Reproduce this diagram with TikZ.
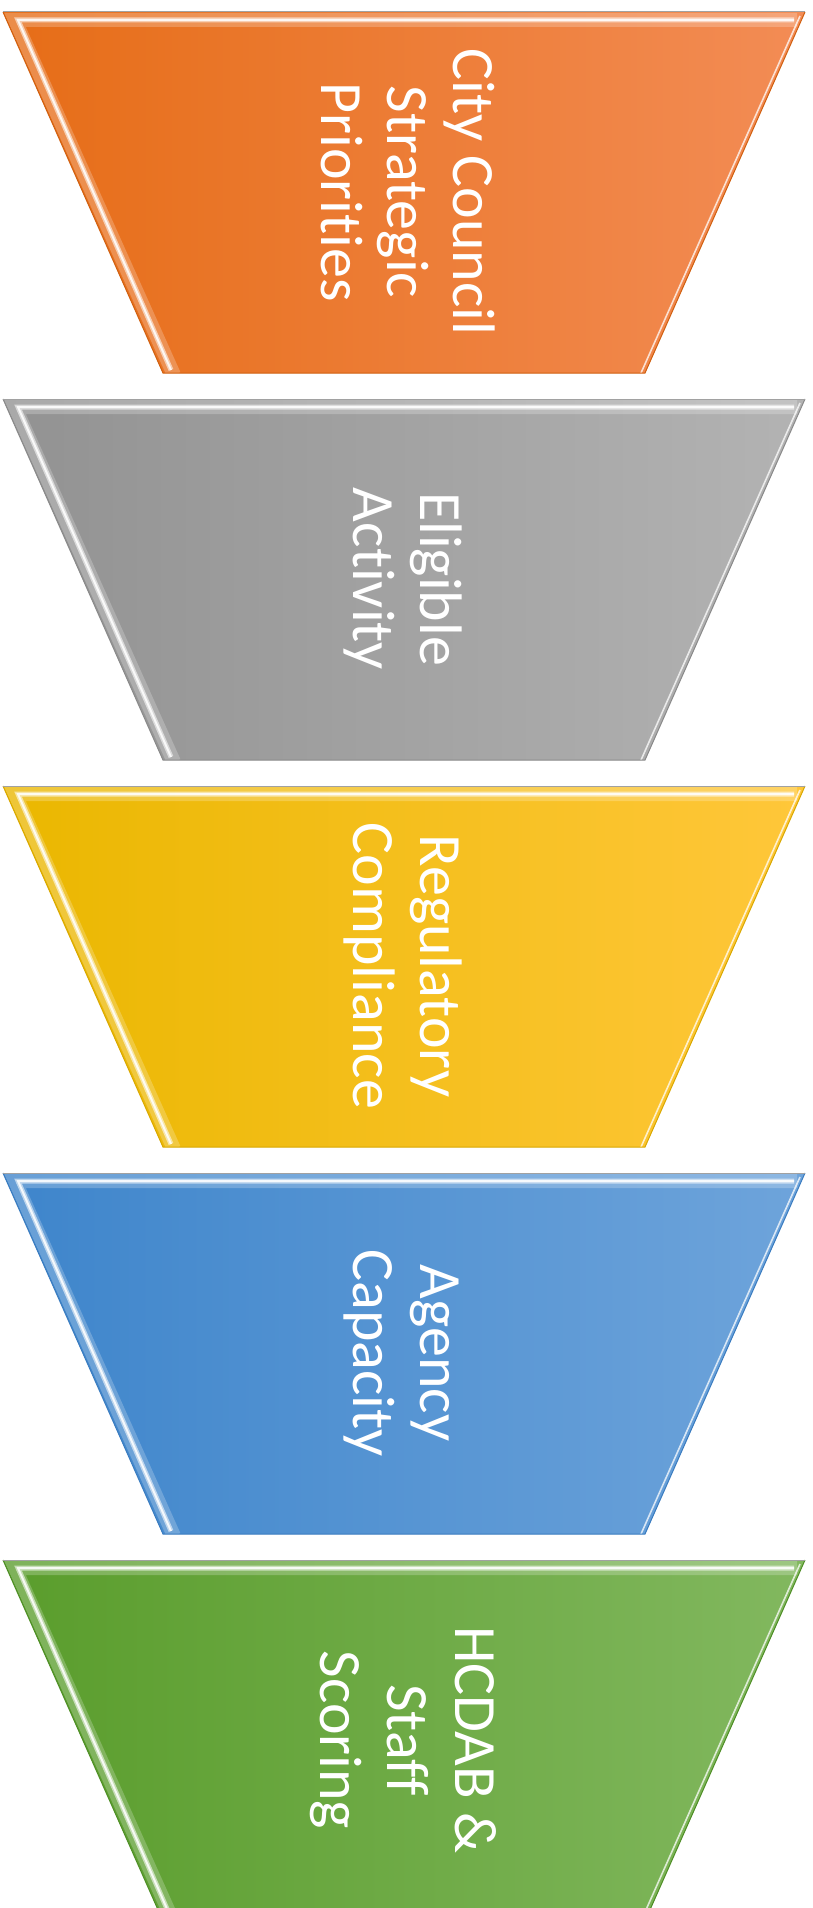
\documentclass[tikz,border=0pt]{standalone}
\usepackage{fontspec}
\newfontfamily\carl[Ligatures=NoCommon]{Carlito}
\definecolor{orL}{HTML}{E66D17}\definecolor{orM}{HTML}{F47E2B}\definecolor{orR}{HTML}{F38C55}\definecolor{orE}{HTML}{D06010}
\definecolor{grL}{HTML}{929292}\definecolor{grM}{HTML}{A3A3A3}\definecolor{grR}{HTML}{B3B3B3}\definecolor{grE}{HTML}{8A8A8A}
\definecolor{yeL}{HTML}{EAB700}\definecolor{yeM}{HTML}{FFC000}\definecolor{yeR}{HTML}{FFC73A}\definecolor{yeE}{HTML}{D9A800}
\definecolor{blL}{HTML}{3E85CB}\definecolor{blM}{HTML}{5597DA}\definecolor{blR}{HTML}{6EA4DB}\definecolor{blE}{HTML}{3A7CC0}
\definecolor{gnL}{HTML}{5A9D2C}\definecolor{gnM}{HTML}{6CAE3F}\definecolor{gnR}{HTML}{82B85F}\definecolor{gnE}{HTML}{4E8E25}
\newcommand{\funnelband}[5]{%
  \begin{scope}
    \path[left color=#2,middle color=#3,right color=#4]
      (3,#1) -- (805,#1) -- (645,#1+361) -- (163,#1+361) -- cycle;
    \begin{scope}
      \clip (3,#1) -- (805,#1) -- (645,#1+361) -- (163,#1+361) -- cycle;
      \draw[hilite, line width=14pt, opacity=0.22]
        (174,#1+363) -- (15,#1+8) -- (797,#1+8);
      \draw[hilite, line width=5pt, opacity=0.55]
        (171,#1+358) -- (18,#1+8) -- (794,#1+8);
      \draw[hilite, line width=2pt, opacity=0.85]
        (171,#1+358) -- (18,#1+8) -- (794,#1+8);
      \draw[hilite, line width=1.6pt, opacity=0.75]
        (800,#1+4) -- (641,#1+361);
    \end{scope}
    \draw[#5, line width=1pt] (805,#1) -- (645,#1+361) -- (163,#1+361) -- (3,#1);
    \draw[grE!80, line width=1pt] (3,#1) -- (805,#1);
  \end{scope}}
\tikzset{
  hilite/.style={draw=white, line join=miter},
  lbl/.style={rotate=-90, anchor=base, text=white, inner sep=0pt,
    font=\carl\fontsize{60}{67}\selectfont}
}
\begin{document}
\begin{tikzpicture}[x=1pt,y=-1pt]
\clip (0,0) rectangle (812,1908);
\fill[white] (0,0) rectangle (812,1908);
\funnelband{12}{orL}{orM}{orR}{orE}
\funnelband{399}{grL}{grM}{grR}{grE}
\funnelband{786}{yeL}{yeM}{yeR}{yeE}
\funnelband{1173}{blL}{blM}{blR}{blE}
\funnelband{1560}{gnL}{gnM}{gnR}{gnE}
% labels
\node[lbl] (t1a) at (453,192) {City Council};
\node[lbl] (t1b) at (387,192) {Strategic};
\node[lbl] (t1c) at (321,192) {Priorities};
\node[lbl] (t2a) at (420,579) {Eligible};
\node[lbl] (t2b) at (353,579) {Activity};
\node[lbl] (t3a) at (420,966) {Regulatory};
\node[lbl] (t3b) at (353,966) {Compliance};
\node[lbl] (t4a) at (420,1353) {Agency};
\node[lbl] (t4b) at (353,1353) {Capacity};
\node[lbl] (t5a) at (455,1740) {HCDAB \&};
\node[lbl] (t5b) at (387,1740) {Staff};
\node[lbl] (t5c) at (320,1740) {Scoring};
\end{tikzpicture}
\end{document}
